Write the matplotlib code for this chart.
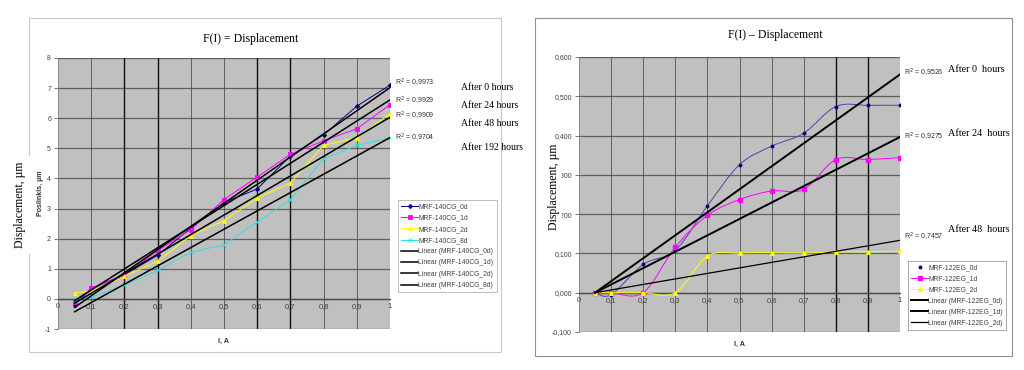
import matplotlib
matplotlib.use('Agg')
import matplotlib.pyplot as plt
import numpy as np
from matplotlib.path import Path
from matplotlib.patches import PathPatch, Rectangle
from matplotlib.lines import Line2D

# Left chart: MRF-140CG
current_l = [0.05, 0.1, 0.2, 0.3, 0.4, 0.5, 0.6, 0.7, 0.8, 0.9, 1.0]
cg_0d = [-0.2, 0.35, 0.8, 1.45, 2.35, 3.2, 3.65, 4.75, 5.45, 6.4, 7.1]
cg_1d = [-0.1, 0.35, 0.8, 1.6, 2.3, 3.3, 4.05, 4.8, 5.25, 5.65, 6.45]
cg_2d = [0.2, 0.25, 0.75, 1.25, 2.1, 2.6, 3.35, 3.85, 5.1, 5.35, 6.15]
cg_8d = [0.0, 0.05, 0.45, 0.95, 1.55, 1.8, 2.55, 3.3, 4.65, 5.1, 5.35]
r2_left = ['0,9973', '0,9929', '0,9909', '0,9704']
hours_left = ['After 0 hours', 'After 24 hours', 'After 48 hours', 'After 192 hours']

# Right chart: MRF-122EG
current_r = [0.05, 0.1, 0.2, 0.3, 0.4, 0.5, 0.6, 0.7, 0.8, 0.9, 1.0]
eg_0d = [0.0, -0.005, 0.072, 0.108, 0.221, 0.326, 0.373, 0.406, 0.474, 0.477, 0.477]
eg_1d = [0.0, 0.0, 0.0, 0.116, 0.197, 0.237, 0.259, 0.263, 0.339, 0.339, 0.344]
eg_2d = [0.0, 0.0, 0.0, 0.0, 0.093, 0.101, 0.102, 0.101, 0.104, 0.104, 0.106]
r2_right = ['0,9526', '0,9275', '0,7457']
hours_right = ['After 0  hours', 'After 24  hours', 'After 48  hours']

x_ticks = [0, 0.1, 0.2, 0.3, 0.4, 0.5, 0.6, 0.7, 0.8, 0.9, 1.0]
x_labels = ['0', '0,1', '0,2', '0,3', '0,4', '0,5', '0,6', '0,7', '0,8', '0,9', '1']

SANS = 'Liberation Sans'
SERIF = 'Liberation Serif'
BG = '#c0c0c0'


def smooth_path(x, y):
    # Catmull-Rom style Bezier through the points, like Excel's smoothed line
    pts = np.column_stack([x, y])
    n = len(pts)
    verts = [pts[0]]
    codes = [Path.MOVETO]
    for i in range(n - 1):
        p0 = pts[i - 1] if i > 0 else pts[i]
        p1 = pts[i]
        p2 = pts[i + 1]
        p3 = pts[i + 2] if i + 2 < n else pts[i + 1]
        c1 = p1 + (p2 - p0) / 6.0
        c2 = p2 - (p3 - p1) / 6.0
        verts += [c1, c2, p2]
        codes += [Path.CURVE4] * 3
    return Path(verts, codes)


def style_axes(ax, ymin, ymax, yticks, ylabels, dark_x):
    ax.set_facecolor(BG)
    ax.set_xlim(0, 1)
    ax.set_ylim(ymin, ymax)
    ax.set_xticks(x_ticks)
    ax.set_xticklabels(x_labels)
    ax.set_yticks(yticks)
    ax.set_yticklabels(ylabels)
    for s in ['top', 'right']:
        ax.spines[s].set_visible(False)
    ax.spines['left'].set_color('#808080')
    ax.spines['left'].set_linewidth(0.6)
    ax.spines['bottom'].set_position(('data', 0))
    ax.spines['bottom'].set_color('#505050')
    ax.spines['bottom'].set_linewidth(1.0)
    ax.tick_params(axis='y', length=3, width=0.6, color='#606060', pad=2,
                   labelsize=5, labelcolor='#404040')
    ax.tick_params(axis='x', length=0, pad=3, labelsize=5.5, labelcolor='#404040')
    for lab in ax.get_xticklabels() + ax.get_yticklabels():
        lab.set_fontfamily(SANS)
    for yv in yticks:
        ax.axhline(yv, color='#606060', lw=0.9, zorder=1)
    for xv in x_ticks[1:-1]:
        if xv in dark_x:
            ax.axvline(xv, color='#101010', lw=1.0, zorder=1)
        else:
            ax.axvline(xv, color='#505050', lw=0.6, zorder=1)


fig = plt.figure(figsize=(10.24, 3.70), dpi=100)
W, H = 1024.0, 370.0

# chart frames
fig.patches.append(Rectangle((29 / W, 1 - 352 / H), 472 / W, 334 / H, transform=fig.transFigure,
                             fill=False, edgecolor='#c8c8c8', lw=0.8, zorder=0))
fig.patches.append(Rectangle((535 / W, 1 - 356 / H), 477 / W, 338 / H, transform=fig.transFigure,
                             fill=False, edgecolor='#909090', lw=0.8, zorder=0))

# ---------------- left chart ----------------
ax1 = fig.add_axes([58 / W, 1 - 329 / H, 332 / W, 271 / H])
style_axes(ax1, -1, 8, list(range(-1, 9)), [str(v) for v in range(-1, 9)],
           dark_x=[0.2, 0.3, 0.6, 0.7])

series_l = [
    (cg_0d, '#000080', 'D', 'MRF-140CG_0d', 2.2),
    (cg_1d, '#ff00ff', 's', 'MRF-140CG_1d', 2.4),
    (cg_2d, '#ffff00', '^', 'MRF-140CG_2d', 2.8),
    (cg_8d, '#33dddd', 'x', 'MRF-140CG_8d', 2.8),
]
xl = np.array(current_l)
handles = []
for vals, col, mk, lab, ms in series_l:
    ax1.plot(xl, vals, color=col, lw=0.7, marker=mk, ms=ms, mew=0.6, zorder=3)
    handles.append(Line2D([], [], color=col, lw=0.7, marker=mk, ms=ms, mew=0.6, label=lab))
for vals, col, mk, lab, ms in series_l:
    k, b = np.polyfit(xl, vals, 1)
    ax1.plot([xl[0], xl[-1]], [k * xl[0] + b, k * xl[-1] + b], color='black', lw=1.1, zorder=4)
    handles.append(Line2D([], [], color='black', lw=1.1, label='Linear (' + lab + ')'))

leg = ax1.legend(handles=handles, loc='upper left', bbox_to_anchor=(398 / W, 1 - 200 / H),
                 bbox_transform=fig.transFigure, prop={'family': SANS, 'size': 4.9},
                 frameon=True, fancybox=False, borderpad=0.5, labelspacing=0.62,
                 handlelength=2.4, handletextpad=0.1, borderaxespad=0)
leg.get_frame().set_edgecolor('#a0a0a0')
leg.get_frame().set_linewidth(0.6)
for t in leg.get_texts():
    t.set_color('#404040')

for txt, yy in zip(r2_left, [83, 101, 116, 138]):
    fig.text(395 / W, 1 - yy / H, 'R$^2$ = ' + txt, fontsize=5, family=SANS,
             color='#303030', va='center')
for txt, yy in zip(hours_left, [88, 106, 124, 148]):
    fig.text(461 / W, 1 - yy / H, txt, fontsize=7, family=SERIF, va='center')

fig.text(251 / W, 1 - 39 / H, 'F(I) = Displacement', fontsize=8.5, family=SERIF,
         ha='center', va='center')
fig.text(224 / W, 1 - 341 / H, 'I, A', fontsize=5.2, family=SANS, weight='bold',
         ha='center', va='center', color='#303030')
fig.text(20 / W, 1 - 205 / H, 'Displacement, µm', fontsize=8.5, family=SERIF,
         rotation=90, ha='center', va='center',
         bbox=dict(facecolor='white', edgecolor='none', pad=4))
fig.text(40 / W, 1 - 193 / H, 'Posiinkis, µm', fontsize=5, family=SANS, weight='bold',
         rotation=90, ha='center', va='center', color='#303030')

# ---------------- right chart ----------------
ax2 = fig.add_axes([579 / W, 1 - 332 / H, 321 / W, 275 / H])
yt2 = [-0.1, 0.0, 0.1, 0.2, 0.3, 0.4, 0.5, 0.6]
style_axes(ax2, -0.1, 0.6, yt2, ['-0,100', '0,000', '0,100', '0,200', '0,300',
                                 '0,400', '0,500', '0,600'], dark_x=[0.8, 0.9])

series_r = [
    (eg_0d, '#4848a8', '#000080', 'o', 'MRF-122EG_0d', 1.8, 1.4),
    (eg_1d, '#ff00ff', '#ff00ff', 's', 'MRF-122EG_1d', 2.2, 1.4),
    (eg_2d, '#ffff00', '#ffff00', '^', 'MRF-122EG_2d', 2.6, 0.9),
]
xr = np.array(current_r)
handles2 = []
for vals, lc, mc, mk, lab, ms, tw in series_r:
    ax2.add_patch(PathPatch(smooth_path(xr, vals), fill=False, edgecolor=lc, lw=0.7, zorder=3))
    ax2.plot(xr, vals, ls='none', marker=mk, ms=ms, color=mc, zorder=3)
    if mk == 'o':
        handles2.append(Line2D([], [], ls='none', marker=mk, ms=ms, color=mc, label=lab))
    else:
        handles2.append(Line2D([], [], color=lc, lw=0.7, marker=mk, ms=ms, label=lab))
for vals, lc, mc, mk, lab, ms, tw in series_r:
    # trend line forced through the first point
    dx = xr - xr[0]
    k = np.sum(dx * (np.array(vals) - vals[0])) / np.sum(dx ** 2)
    ax2.plot([xr[0], xr[-1]], [vals[0], vals[0] + k * dx[-1]], color='black', lw=tw, zorder=4)
    handles2.append(Line2D([], [], color='black', lw=tw, label='Linear (' + lab + ')'))

leg2 = ax2.legend(handles=handles2, loc='upper left', bbox_to_anchor=(908 / W, 1 - 261 / H),
                  bbox_transform=fig.transFigure, prop={'family': SANS, 'size': 4.9},
                  frameon=True, fancybox=False, borderpad=0.5, labelspacing=0.6,
                  handlelength=2.4, handletextpad=0.1, borderaxespad=0)
leg2.get_frame().set_edgecolor('#808080')
leg2.get_frame().set_linewidth(0.6)
for t in leg2.get_texts():
    t.set_color('#404040')

for txt, yy in zip(r2_right, [73, 137, 237]):
    fig.text(904 / W, 1 - yy / H, 'R$^2$ = ' + txt, fontsize=5, family=SANS,
             color='#303030', va='center')
for txt, yy in zip(hours_right, [70, 133, 230]):
    fig.text(948 / W, 1 - yy / H, txt, fontsize=7.3, family=SERIF, va='center')

fig.text(775 / W, 1 - 35 / H, 'F(I) – Displacement', fontsize=8.5, family=SERIF,
         ha='center', va='center')
fig.text(740 / W, 1 - 344 / H, 'I, A', fontsize=5.2, family=SANS, weight='bold',
         ha='center', va='center', color='#303030')
fig.text(554 / W, 1 - 187 / H, 'Displacement, µm', fontsize=8.5, family=SERIF,
         rotation=90, ha='center', va='center',
         bbox=dict(facecolor='white', edgecolor='none', pad=1.5))

fig.savefig('out.png', dpi=100)
